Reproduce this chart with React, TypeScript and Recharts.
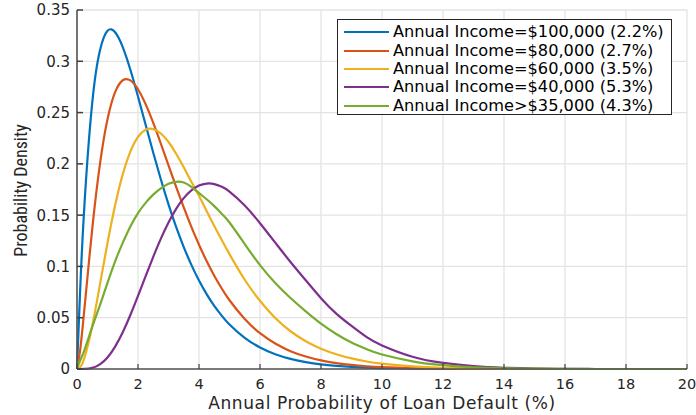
import React from "react";
import { LineChart, Line, XAxis, YAxis, CartesianGrid, Legend, Label } from "recharts";

// Annual probability of loan default (%)
const xValues = [0, 0.1, 0.25, 0.5, 0.75, 1, 1.25, 1.5, 1.75, 2, 2.25, 2.5, 2.75, 3, 3.25, 3.5, 3.75, 4, 4.25, 4.5, 4.75, 5, 5.5, 6, 6.5, 7, 7.5, 8, 8.5, 9, 9.5, 10, 11, 12, 13, 14, 15, 16, 17, 18, 19, 20];

const income100k = [0, 0.0747, 0.163, 0.2597, 0.3103, 0.3297, 0.3283, 0.3139, 0.2918, 0.2657, 0.2381, 0.2108, 0.1847, 0.1605, 0.1385, 0.1189, 0.1015, 0.0862, 0.073, 0.0616, 0.0518, 0.0434, 0.0303, 0.021, 0.0144, 0.0099, 0.0067, 0.0045, 0.0031, 0.0021, 0.0014, 0.0009, 0.0004, 0.0002, 0.0001, 0, 0, 0, 0, 0, 0, 0];
const income80k = [0, 0.0177, 0.0609, 0.1367, 0.1993, 0.2434, 0.2699, 0.2815, 0.2814, 0.2727, 0.2582, 0.2399, 0.2196, 0.1985, 0.1776, 0.1575, 0.1385, 0.1211, 0.1052, 0.0909, 0.0782, 0.067, 0.0487, 0.0349, 0.0248, 0.0174, 0.0122, 0.0084, 0.0058, 0.004, 0.0027, 0.0018, 0.0008, 0.0004, 0.0002, 0.0001, 0, 0, 0, 0, 0, 0];
const income60k = [0, 0.0018, 0.0115, 0.0422, 0.082, 0.1228, 0.1596, 0.1897, 0.2119, 0.2262, 0.2332, 0.2339, 0.2296, 0.2213, 0.2099, 0.1966, 0.1825, 0.169, 0.154, 0.1395, 0.1255, 0.112, 0.087, 0.0665, 0.0497, 0.0368, 0.0271, 0.0198, 0.0144, 0.0103, 0.0073, 0.0052, 0.0026, 0.0012, 0.0006, 0.0003, 0.0001, 0, 0, 0, 0, 0];
const income40k = [0, 0, 0.0001, 0.0011, 0.0045, 0.0112, 0.0218, 0.0358, 0.0526, 0.0712, 0.0905, 0.1094, 0.1271, 0.1428, 0.1561, 0.1666, 0.1741, 0.1789, 0.1808, 0.1803, 0.1776, 0.173, 0.1594, 0.1421, 0.1232, 0.1043, 0.0865, 0.069, 0.054, 0.042, 0.031, 0.023, 0.012, 0.006, 0.0028, 0.0012, 0.0005, 0.0002, 0, 0, 0, 0];
const income35kPlus = [0, 0.008, 0.019, 0.041, 0.062, 0.084, 0.105, 0.123, 0.139, 0.152, 0.162, 0.17, 0.176, 0.1805, 0.1825, 0.1818, 0.1775, 0.1715, 0.1655, 0.1588, 0.1512, 0.1428, 0.1218, 0.1012, 0.0838, 0.0692, 0.0562, 0.0442, 0.0341, 0.0258, 0.0192, 0.0141, 0.0075, 0.0037, 0.0017, 0.0007, 0.0003, 0.0001, 0, 0, 0, 0];

const seriesNames = [
  "Annual Income=$100,000 (2.2%)",
  "Annual Income=$80,000 (2.7%)",
  "Annual Income=$60,000 (3.5%)",
  "Annual Income=$40,000 (5.3%)",
  "Annual Income>$35,000 (4.3%)",
];
const seriesColors = ["#0072BD", "#D95319", "#EDB120", "#7E2F8E", "#77AC30"];
const seriesKeys = ["s100", "s80", "s60", "s40", "s35"];
const seriesValues = [income100k, income80k, income60k, income40k, income35kPlus];

const xTicks = [0, 2, 4, 6, 8, 10, 12, 14, 16, 18, 20];
const yTicks = [0, 0.05, 0.1, 0.15, 0.2, 0.25, 0.3, 0.35];

const data = xValues.map((x, i) => {
  const row: Record<string, number> = { x };
  seriesKeys.forEach((k, j) => {
    row[k] = seriesValues[j][i];
  });
  return row;
});

const FONT = "'DejaVu Sans', Verdana, sans-serif";
const TEXT = "#262626";
const TICK_DARK = "#404040";

const BottomTick = (props: any) => {
  const { x, y, payload } = props;
  return (
    <g>
      <line x1={x} x2={x} y1={y} y2={y - 5} stroke={TICK_DARK} strokeWidth={1.2} />
      <text x={x} y={y + 20} textAnchor="middle" fontFamily={FONT} fontSize={14.5} fill={TEXT}>
        {payload.value}
      </text>
    </g>
  );
};

const TopTick = (props: any) => {
  const { x, y } = props;
  return <line x1={x} x2={x} y1={y} y2={y + 5} stroke={TICK_DARK} strokeWidth={1.2} />;
};

const LeftTick = (props: any) => {
  const { x, y, payload } = props;
  return (
    <g>
      <line x1={x} x2={x + 6} y1={y} y2={y} stroke={TICK_DARK} strokeWidth={1.5} />
      <text x={x - 7} y={y} dy="0.36em" textAnchor="end" fontFamily={FONT} fontSize={15} fill={TEXT}>
        {String(payload.value)}
      </text>
    </g>
  );
};

const RightTick = (props: any) => {
  const { x, y } = props;
  return <line x1={x} x2={x - 6} y1={y} y2={y} stroke={TICK_DARK} strokeWidth={1.5} />;
};

const LegendBox = (props: any) => {
  const { payload } = props;
  const items = [...(payload || [])].sort(
    (a: any, b: any) => seriesNames.indexOf(a.value) - seriesNames.indexOf(b.value)
  );
  return (
    <div
      style={{
        border: "1px solid #262626",
        background: "#fff",
        width: 335,
        height: 96,
        boxSizing: "border-box",
        paddingTop: 3,
        paddingLeft: 6,
      }}
    >
      {items.map((entry: any) => (
        <div key={entry.value} style={{ display: "flex", alignItems: "center", height: 18.4 }}>
          <svg width={45} height={4} style={{ display: "block", marginRight: 4 }}>
            <line x1={0} x2={45} y1={2} y2={2} stroke={entry.color} strokeWidth={2} />
          </svg>
          <span style={{ fontFamily: FONT, fontSize: 16.2, color: "#000", whiteSpace: "nowrap", lineHeight: "18px" }}>
            {entry.value}
          </span>
        </div>
      ))}
    </div>
  );
};

export default function App() {
  return (
    <div style={{ position: "absolute", left: 0, top: 0, width: 696, height: 415, background: "#fff" }}>
      <LineChart width={696} height={415} data={data} margin={{ top: 10, right: 9, left: 0, bottom: 0 }}>
        <CartesianGrid stroke="#e3e3e3" strokeWidth={1.3} />
        <XAxis
          dataKey="x"
          type="number"
          domain={[0, 20]}
          ticks={xTicks}
          height={46}
          tickSize={0}
          tickMargin={0}
          tickLine={false}
          axisLine={{ stroke: "#555", strokeWidth: 1.6 }}
          tick={<BottomTick />}
          interval={0}
        >
          <Label
            content={(p: any) => {
              const vb = p.viewBox;
              return (
                <text
                  x={vb.x + vb.width / 2}
                  y={vb.y + 40}
                  textAnchor="middle"
                  fontFamily={FONT}
                  fontSize={17}
                  letterSpacing={0.6}
                  fill={TEXT}
                >
                  Annual Probability of Loan Default (%)
                </text>
              );
            }}
          />
        </XAxis>
        <XAxis
          xAxisId="top"
          orientation="top"
          dataKey="x"
          type="number"
          domain={[0, 20]}
          ticks={xTicks}
          height={0}
          tickSize={0}
          tickMargin={0}
          tickLine={false}
          axisLine={{ stroke: "#a9a9a9", strokeWidth: 3 }}
          tick={<TopTick />}
          interval={0}
        />
        <YAxis
          type="number"
          domain={[0, 0.35]}
          ticks={yTicks}
          width={77}
          tickSize={0}
          tickMargin={0}
          tickLine={false}
          axisLine={{ stroke: "#555", strokeWidth: 1.6 }}
          tick={<LeftTick />}
          interval={0}
        >
          <Label
            content={(p: any) => {
              const vb = p.viewBox;
              const cx = vb.x + 20.5;
              const cy = vb.y + vb.height / 2 + 1;
              return (
                <text
                  x={cx}
                  y={cy}
                  dy="0.36em"
                  textAnchor="middle"
                  transform={`rotate(-90, ${cx}, ${cy})`}
                  fontFamily="'Liberation Sans Narrow', 'Roboto Condensed', 'DejaVu Sans Condensed', sans-serif"
                  fontSize={18}
                  fill={TEXT}
                >
                  Probability Density
                </text>
              );
            }}
          />
        </YAxis>
        <YAxis
          yAxisId="right"
          orientation="right"
          type="number"
          domain={[0, 0.35]}
          ticks={yTicks}
          width={0}
          tickSize={0}
          tickMargin={0}
          tickLine={false}
          axisLine={{ stroke: "#333", strokeWidth: 1.5 }}
          tick={<RightTick />}
          interval={0}
        />
        {seriesKeys.map((k, i) => (
          <Line
            key={k}
            type="natural"
            dataKey={k}
            name={seriesNames[i]}
            stroke={seriesColors[i]}
            strokeWidth={2.2}
            dot={false}
            activeDot={false}
            isAnimationActive={false}
          />
        ))}
        <Legend
          layout="vertical"
          align="center"
          verticalAlign="middle"
          content={<LegendBox />}
          wrapperStyle={{ position: "absolute", left: 337, top: 19, width: 335, height: 96, margin: 0 }}
        />
      </LineChart>
    </div>
  );
}
